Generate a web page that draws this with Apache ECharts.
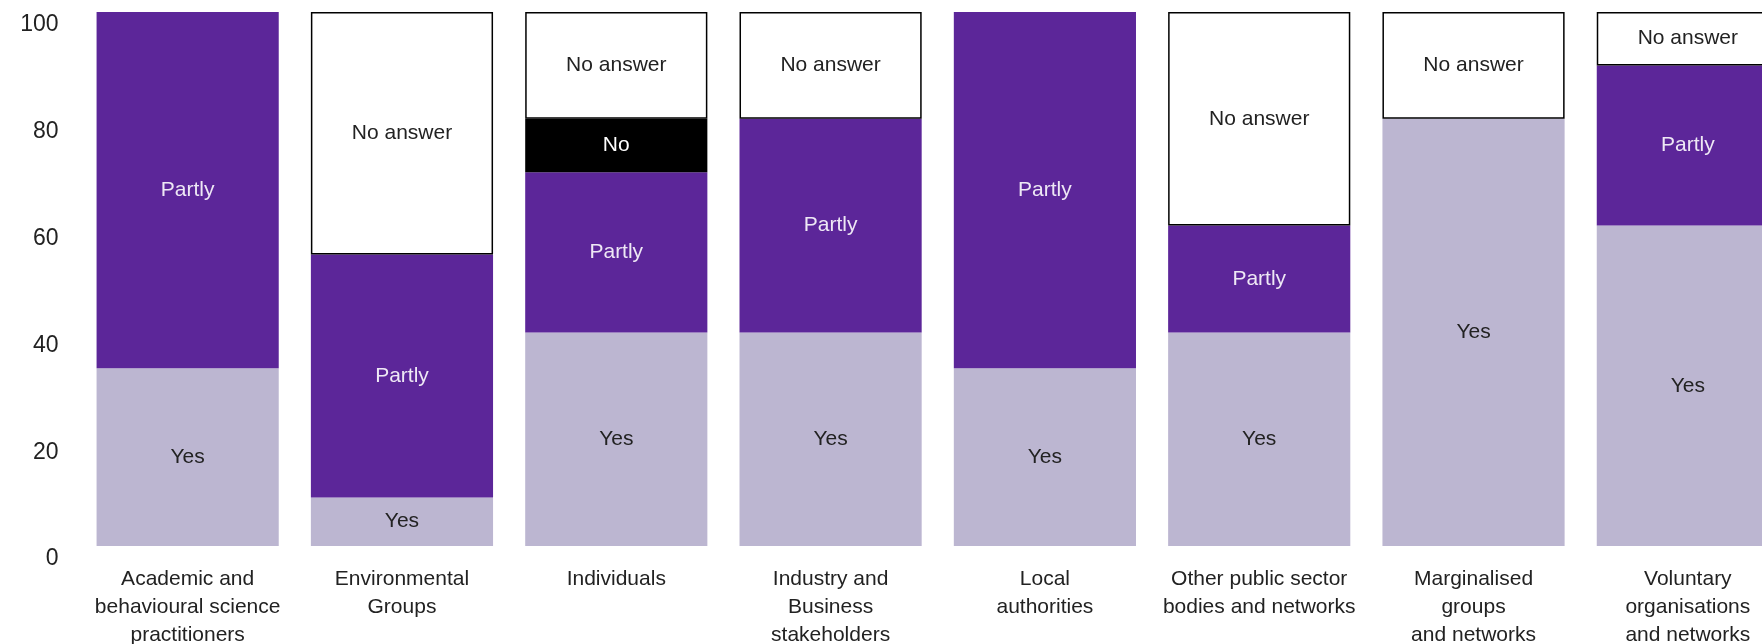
<!DOCTYPE html>
<html>
<head>
<meta charset="utf-8">
<script src="https://cdn.jsdelivr.net/npm/echarts@6/dist/echarts.min.js"></script>
<style>html,body{margin:0;padding:0;background:#fff}#c{width:1762px;height:644px}</style>
</head>
<body>
<div id="c"></div>
<script>
const categories = [
  'Academic and\nbehavioural science\npractitioners',
  'Environmental\nGroups',
  'Individuals',
  'Industry and\nBusiness\nstakeholders',
  'Local\nauthorities',
  'Other public sector\nbodies and networks',
  'Marginalised\ngroups\nand networks',
  'Voluntary\norganisations\nand networks'
];
const yesValues      = [33.3, 9.1, 40, 40, 33.3, 40, 80, 60];
const partlyValues   = [66.7, 45.5, 30, 40, 66.7, 20, 0, 30];
const noValues       = [0, 0, 10, 0, 0, 0, 0, 0];
const noAnswerValues = [0, 45.4, 20, 20, 0, 40, 20, 10];
const yTicks = [0, 20, 40, 60, 80, 100];

const FONT = 'Liberation Sans';
const clean = arr => arr.map(v => v === 0 ? '-' : v);

function series(name, data, color, textColor, border) {
  return {
    name: name,
    type: 'bar',
    stack: 'total',
    barWidth: '85%',
    data: clean(data),
    itemStyle: border ? {color: color, borderColor: '#000', borderWidth: 1.5} : {color: color},
    label: {
      show: true,
      position: 'inside',
      formatter: '{a}',
      color: textColor,
      fontFamily: FONT,
      fontSize: 21
    },
    emphasis: {disabled: true}
  };
}

const chart = echarts.init(document.getElementById('c'), null, {renderer: 'canvas'});
chart.setOption({
  animation: false,
  grid: {left: 80.5, width: 1714.5, top: 12, bottom: 98, containLabel: false, outerBoundsMode: 'none'},
  xAxis: {
    type: 'category',
    data: categories,
    axisLine: {show: false},
    axisTick: {show: false},
    axisLabel: {
      interval: 0,
      margin: 19,
      fontFamily: FONT,
      fontSize: 21,
      lineHeight: 28,
      color: '#222'
    }
  },
  yAxis: {
    type: 'value',
    min: yTicks[0],
    max: yTicks[yTicks.length - 1],
    interval: yTicks[1] - yTicks[0],
    axisLine: {show: false},
    axisTick: {show: false},
    splitLine: {show: false},
    axisLabel: {
      margin: 22,
      fontFamily: FONT,
      fontSize: 23,
      lineHeight: 26,
      verticalAlign: 'top',
      color: '#222'
    }
  },
  series: [
    series('Yes', yesValues, '#bcb6d1', '#222', false),
    series('Partly', partlyValues, '#5c2699', '#eee8f5', false),
    series('No', noValues, '#000000', '#ffffff', false),
    series('No answer', noAnswerValues, '#ffffff', '#222', true)
  ]
});
</script>
</body>
</html>
